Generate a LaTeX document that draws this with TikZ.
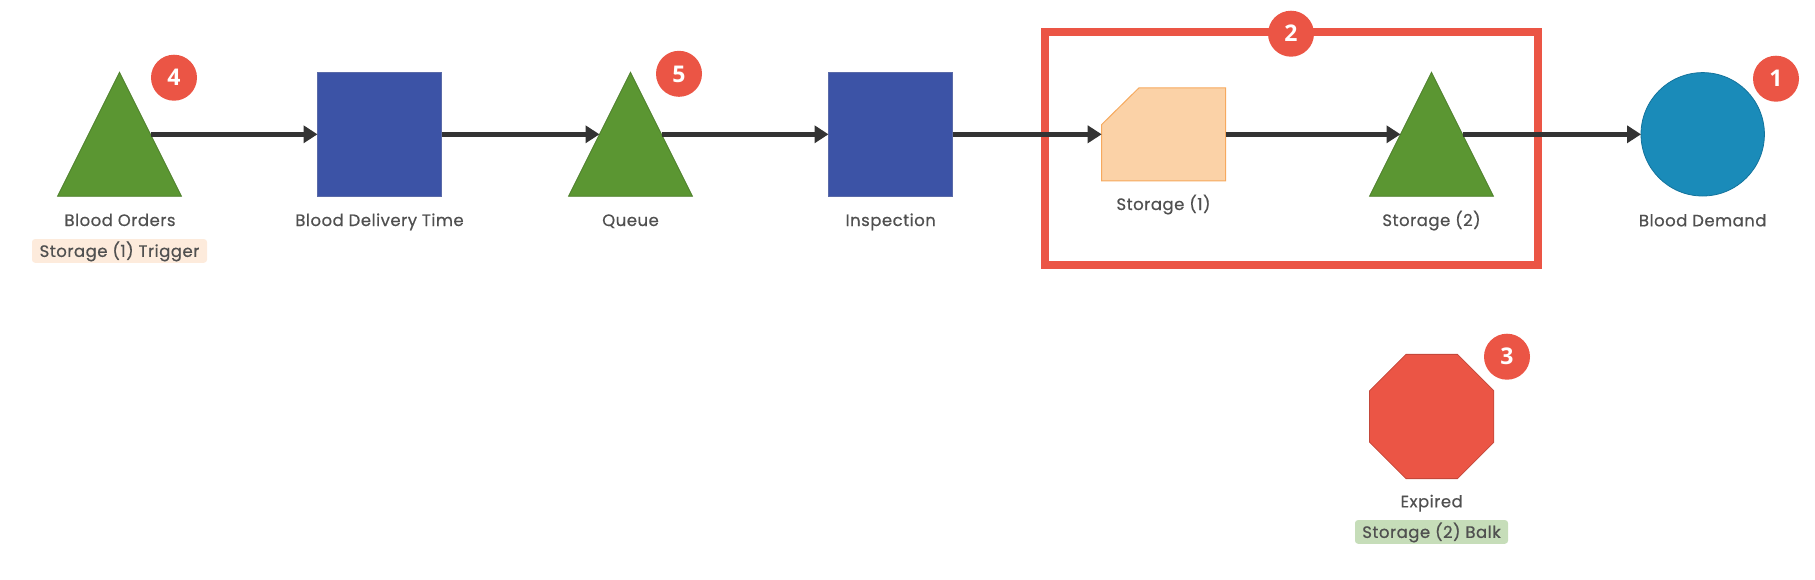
\documentclass[tikz,border=0pt]{standalone}
\usepackage{fontspec}
\setmainfont{Poppins}
\newfontfamily\lblfont[FakeBold=0.6,LetterSpace=3]{Poppins}
\newfontfamily\badgefont{Open Sans}
\usetikzlibrary{shapes.geometric,arrows.meta}
\definecolor{gfill}{HTML}{5B9632}
\definecolor{gline}{HTML}{4C7E2A}
\definecolor{bfill}{HTML}{3C53A6}
\definecolor{bline}{HTML}{5A6AA8}
\definecolor{pfill}{HTML}{FBD2A7}
\definecolor{pline}{HTML}{F6A95E}
\definecolor{cfill}{HTML}{1A8BB9}
\definecolor{cline}{HTML}{13739C}
\definecolor{redc}{HTML}{EB5545}
\definecolor{oline}{HTML}{C4473A}
\definecolor{arrc}{HTML}{333333}
\definecolor{txtc}{HTML}{505050}
\definecolor{tagA}{HTML}{FDEBDC}
\definecolor{tagB}{HTML}{C6DDB9}
\begin{document}
\begin{tikzpicture}[x=1pt,y=-1pt,
  tri/.style={shape=isosceles triangle, shape border rotate=90, isosceles triangle stretches,
    minimum width=124pt, minimum height=124pt, inner sep=0pt, outer sep=0pt, fill=gfill, draw=gline, line width=0.8pt, anchor=apex},
  sq/.style={rectangle, minimum width=124pt, minimum height=124pt, inner sep=0pt, outer sep=0pt, fill=bfill, draw=bline, line width=0.8pt},
  lbl/.style={anchor=base, text=txtc, font=\lblfont\fontsize{16.5}{19}\selectfont, inner sep=0pt},
  tag/.style={rectangle, rounded corners=3pt, text=txtc, font=\lblfont\fontsize{16.5}{19}\selectfont, inner sep=0pt, text height=12pt, text depth=0pt},
  badge/.style={circle, fill=redc, minimum size=46pt, inner sep=0pt, text=white, font=\badgefont\bfseries\fontsize{23}{26}\selectfont, text height=16.5pt, text depth=0pt},
  arr/.style={draw=arrc, line width=4.5pt, -{Triangle[length=14pt,width=17pt]}}
]
\useasboundingbox (0,0) rectangle (1815,579);

% group frame
\node[rectangle, draw=redc, line width=7.7pt, minimum width=493pt, minimum height=232.5pt, inner sep=0pt] (grp) at (1291.5,148.45) {};

% main nodes
\node[tri] (bo) at (119.5,72.3) {};
\node[sq] (bdt) at (379.5,134.3) {};
\node[tri] (q) at (630.5,72.3) {};
\node[sq] (insp) at (890.5,134.3) {};
\node[rectangle, minimum width=124pt, minimum height=93pt, inner sep=0pt, outer sep=0pt] (s1) at (1163.7,134.3) {};
\fill[pfill, draw=pline, line width=1pt] ([xshift=37.3pt]s1.north west) -- (s1.north east) -- (s1.south east) -- (s1.south west) -- ([yshift=-36.7pt]s1.north west) -- cycle;
\node[tri] (s2) at (1431.5,72.3) {};
\node[circle, minimum size=123.4pt, inner sep=0pt, outer sep=0pt, fill=cfill, draw=cline, line width=0.8pt] (bd) at (1702.7,134.3) {};
\node[regular polygon, regular polygon sides=8, minimum size=134.5pt, inner sep=0pt, fill=redc, draw=oline, line width=0.8pt] (exp) at (1431.7,416.5) {};

% connectors
\draw[arr] (bdt.west -| bo.right side) -- (bdt.west);
\draw[arr] (bdt.east) -- (bdt.east -| q.left side);
\draw[arr] (insp.west -| q.right side) -- (insp.west);
\draw[arr] (insp.east) -- (insp.east -| s1.west);
\draw[arr] (s1.east) -- (s1.east -| s2.left side);
\draw[arr] (bd.west -| s2.right side) -- (bd.west);

% labels
\node[lbl] (lbo) at (120,226) {Blood Orders};
\node[lbl] (lbdt) at (379.5,226) {Blood Delivery Time};
\node[lbl] (lq) at (630.5,226) {Queue};
\node[lbl] (linsp) at (890.7,226) {Inspection};
\node[lbl] (ls1) at (1163.5,210) {Storage (1)};
\node[lbl] (ls2) at (1431.5,226) {Storage (2)};
\node[lbl] (lbd) at (1702.7,226.3) {Blood Demand};
\node[lbl] (lexp) at (1431.7,507.3) {Expired};

% tags
\node[tag, fill=tagA, minimum width=175pt, minimum height=23.7pt] (tg1) at (119.5,250.9) {Storage (1) Trigger};
\node[tag, fill=tagB, minimum width=153pt, minimum height=23.7pt] (tg2) at (1431.5,531.9) {Storage (2) Balk};

% badges
\node[badge] (b4) at (174,77.7) {4};
\node[badge] (b5) at (679,73.8) {5};
\node[badge] (b2) at (1291,33.7) {2};
\node[badge] (b3) at (1507,356.7) {3};
\node[badge] (b1) at (1776,78.7) {1};
\end{tikzpicture}
\end{document}
